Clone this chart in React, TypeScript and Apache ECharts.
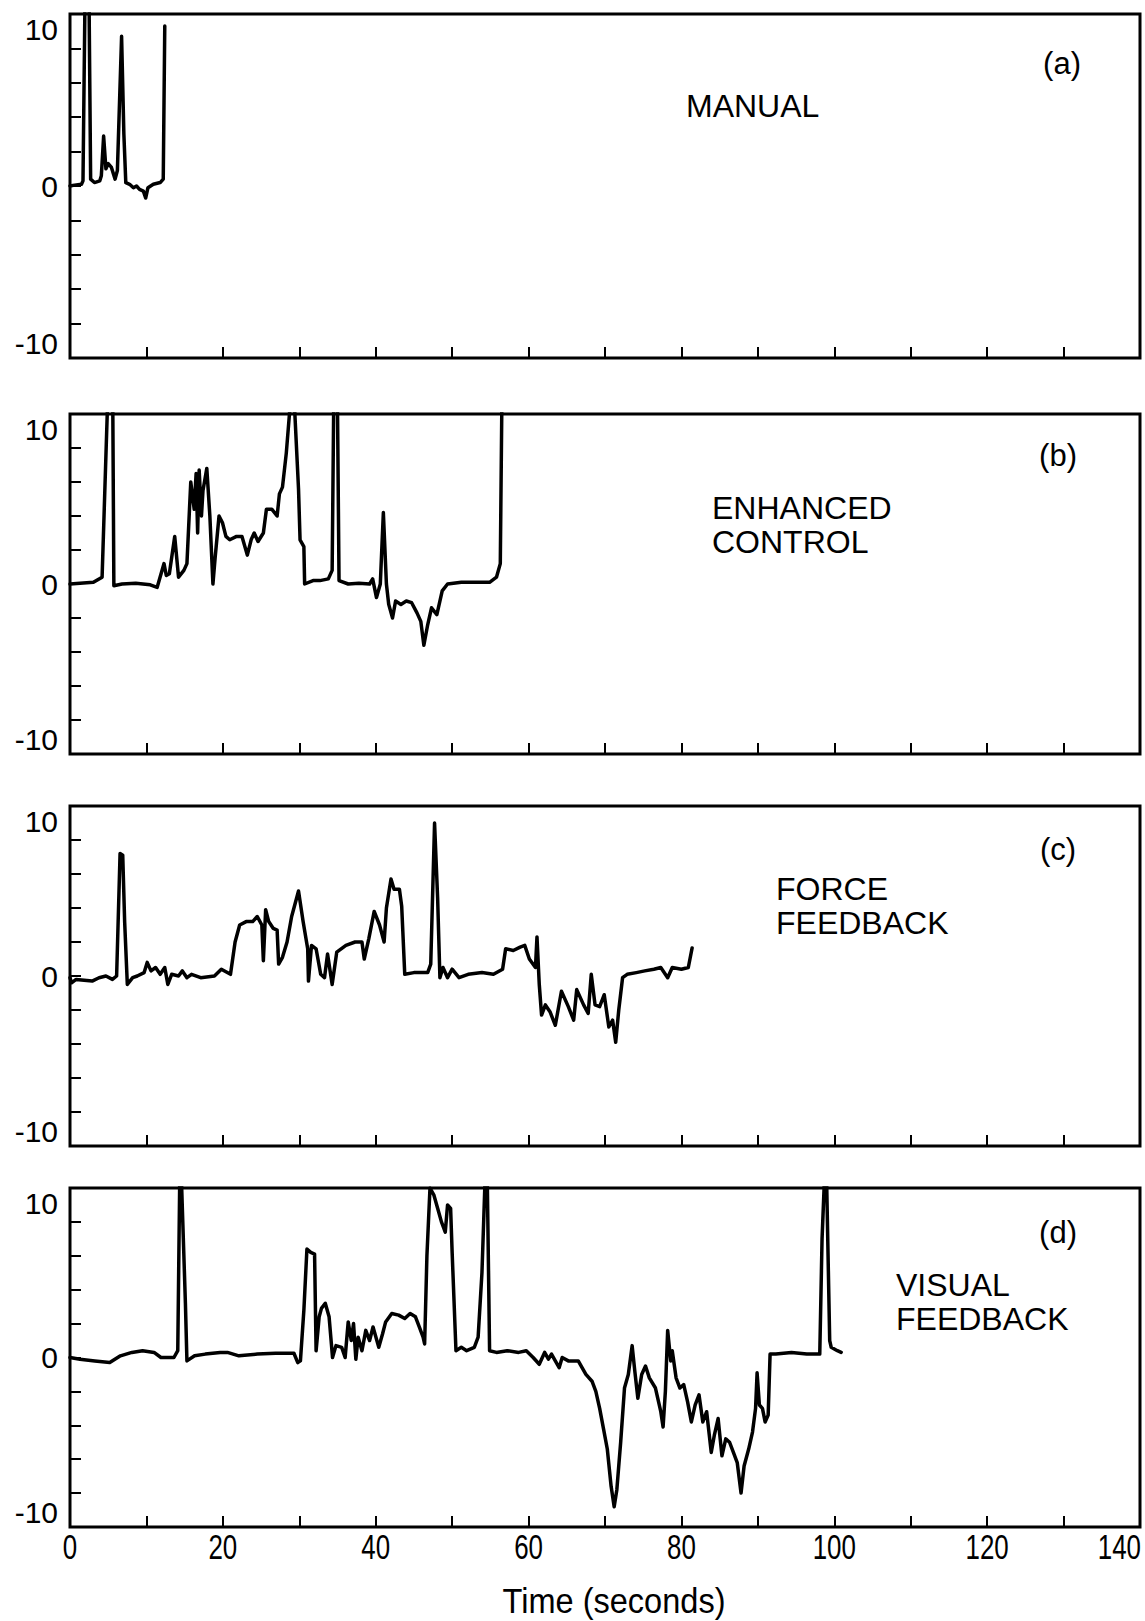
import React, { useEffect, useRef } from "react";
import * as echarts from "echarts";

// ---- Data (time in seconds, value) ----
const A_T = [0, 0.6, 1.5, 1.7, 1.95, 2.5, 2.7, 3.2, 3.9, 4.1, 4.4, 4.7, 5.0, 5.4, 5.9, 6.2, 6.75, 7.05, 7.3, 7.8, 8.3, 8.7, 9.1, 9.6, 9.9, 10.2, 10.9, 11.8, 12.2, 12.4];
const A_V = [0, 0.05, 0.1, 0.3, 10.4, 10.4, 0.4, 0.2, 0.3, 0.6, 2.9, 1.0, 1.3, 1.1, 0.4, 0.9, 8.7, 3.0, 0.2, 0.1, -0.1, 0.0, -0.2, -0.3, -0.7, -0.1, 0.1, 0.2, 0.4, 9.3];

const B_T = [0, 3.06, 4.2, 4.9, 5.6, 5.74, 6.8, 8.6, 10.5, 11.4, 12.3, 12.6, 13.0, 13.7, 14.2, 14.9, 15.3, 15.8, 16.25, 16.5, 16.7, 16.9, 17.2, 17.4, 17.9, 18.3, 18.7, 19.0, 19.5, 19.95, 20.4, 20.9, 21.8, 22.5, 23.2, 23.7, 24.1, 24.6, 25.3, 25.7, 26.4, 27.1, 27.4, 27.8, 28.3, 28.75, 29.4, 29.9, 30.1, 30.6, 30.7, 31.8, 32.7, 33.8, 34.3, 34.5, 35.0, 35.2, 36.4, 37.8, 39.2, 39.6, 40.1, 40.6, 41.0, 41.4, 41.7, 42.2, 42.6, 43.3, 44.0, 44.7, 45.4, 45.9, 46.3, 46.8, 47.3, 48.0, 48.7, 49.4, 51.2, 53.1, 54.9, 55.8, 56.3, 56.5];
const B_V = [0, 0.1, 0.4, 10.4, 10.4, -0.1, 0.0, 0.05, -0.05, -0.2, 1.2, 0.5, 0.6, 2.8, 0.4, 0.8, 1.2, 6.0, 4.4, 6.5, 3.0, 6.7, 4.0, 5.5, 6.8, 4.0, 0.0, 1.6, 4.0, 3.6, 2.8, 2.6, 2.8, 2.8, 1.7, 2.6, 3.0, 2.5, 3.0, 4.4, 4.4, 4.0, 5.3, 5.7, 7.7, 10.2, 10.2, 5.6, 2.6, 2.2, 0.0, 0.2, 0.2, 0.3, 0.8, 10.4, 10.4, 0.2, 0.0, 0.05, 0.0, 0.3, -0.8, 0.0, 4.2, 0.0, -1.2, -2.0, -1.0, -1.2, -1.0, -1.1, -1.7, -2.2, -3.6, -2.4, -1.4, -1.8, -0.4, 0.0, 0.1, 0.1, 0.1, 0.4, 1.2, 10.4];

const C_T = [0, 0.2, 0.8, 2.9, 3.8, 4.7, 5.55, 6.1, 6.55, 6.9, 7.15, 7.5, 8.2, 8.8, 9.7, 10.1, 10.6, 11.2, 11.8, 12.4, 12.8, 13.3, 14.2, 14.7, 15.3, 15.9, 17.1, 18.9, 19.8, 21.0, 21.6, 22.2, 23.05, 23.9, 24.5, 25.1, 25.3, 25.6, 26.0, 26.6, 27.1, 27.3, 27.8, 28.4, 29.0, 29.9, 30.5, 31.1, 31.2, 31.6, 32.2, 32.8, 33.3, 33.7, 34.3, 34.9, 36.1, 37.3, 38.2, 38.5, 39.1, 39.8, 40.5, 41.1, 41.4, 42.0, 42.4, 43.1, 43.4, 43.8, 45.0, 46.8, 47.2, 47.7, 48.1, 48.4, 48.8, 49.4, 50.0, 50.9, 52.1, 53.9, 55.4, 56.6, 57.0, 58.0, 58.9, 59.5, 60.1, 60.9, 61.1, 61.4, 61.7, 62.2, 62.8, 63.5, 64.3, 65.2, 65.9, 66.3, 67.2, 67.8, 68.2, 68.7, 69.3, 69.9, 70.5, 71.0, 71.4, 71.8, 72.3, 72.9, 74.1, 75.2, 76.4, 77.3, 78.2, 78.8, 80.0, 80.9, 81.4];
const C_V = [-0.1, -0.4, -0.2, -0.3, -0.1, 0.0, -0.2, 0.0, 7.2, 7.1, 3.2, -0.5, -0.1, 0.0, 0.2, 0.8, 0.3, 0.5, 0.1, 0.5, -0.5, 0.1, 0.0, 0.3, -0.1, 0.1, -0.1, 0.0, 0.4, 0.1, 2.0, 3.0, 3.2, 3.2, 3.5, 3.0, 0.9, 3.9, 3.2, 2.8, 2.7, 0.7, 1.1, 2.0, 3.5, 5.0, 3.2, 1.6, -0.3, 1.8, 1.6, 0.1, -0.1, 1.3, -0.5, 1.4, 1.8, 2.0, 2.0, 1.0, 2.2, 3.8, 3.0, 2.0, 4.0, 5.7, 5.1, 5.1, 4.1, 0.1, 0.2, 0.2, 0.7, 9.0, 4.6, -0.1, 0.5, -0.1, 0.4, -0.1, 0.1, 0.2, 0.1, 0.4, 1.6, 1.5, 1.7, 1.8, 1.0, 0.5, 2.3, -0.5, -2.3, -1.7, -2.1, -2.9, -0.9, -1.8, -2.6, -0.8, -1.7, -2.2, 0.1, -1.7, -1.8, -1.1, -3.0, -2.6, -3.9, -2.0, -0.1, 0.1, 0.2, 0.3, 0.4, 0.5, -0.1, 0.5, 0.4, 0.5, 1.65];

const D_T = [0, 1.3, 3.25, 5.2, 6.6, 8.1, 9.5, 11.0, 11.9, 13.6, 14.1, 14.35, 14.6, 15.1, 15.3, 16.3, 17.7, 19.65, 20.6, 22.1, 24.5, 26.9, 29.3, 29.8, 30.15, 30.6, 31.0, 31.5, 32.0, 32.2, 32.6, 32.9, 33.4, 33.9, 34.35, 34.8, 35.55, 36.0, 36.4, 36.8, 37.1, 37.4, 37.7, 38.2, 38.7, 39.2, 39.65, 40.4, 40.9, 41.3, 42.1, 43.0, 43.8, 44.5, 45.2, 45.7, 46.2, 46.4, 46.7, 47.1, 47.6, 48.1, 48.6, 49.1, 49.4, 49.8, 50.0, 50.5, 51.2, 51.9, 52.9, 53.4, 53.9, 54.3, 54.6, 54.9, 55.8, 57.2, 58.7, 59.7, 60.6, 61.4, 62.1, 62.6, 63.0, 63.5, 64.0, 64.4, 65.2, 66.5, 67.0, 67.5, 68.3, 68.8, 69.3, 69.8, 70.3, 70.8, 71.2, 71.55, 72.05, 72.55, 73.05, 73.55, 73.9, 74.3, 74.8, 75.3, 75.8, 76.6, 77.3, 77.6, 77.9, 78.2, 78.6, 78.8, 79.3, 79.8, 80.3, 80.8, 81.3, 81.8, 82.3, 82.8, 83.3, 83.9, 84.3, 84.8, 85.3, 85.8, 86.3, 86.8, 87.3, 87.8, 88.2, 88.8, 89.3, 89.7, 89.9, 90.2, 90.6, 90.95, 91.35, 91.6, 92.35, 94.4, 96.4, 98.1, 98.4, 98.7, 99.0, 99.4, 99.6, 100.4, 100.9];
const D_V = [0, -0.1, -0.2, -0.3, 0.1, 0.3, 0.4, 0.3, 0.0, 0.0, 0.4, 10.2, 10.2, 3.2, -0.2, 0.1, 0.2, 0.3, 0.3, 0.1, 0.2, 0.25, 0.25, -0.3, -0.2, 2.8, 6.4, 6.2, 6.1, 0.4, 2.4, 2.9, 3.2, 2.4, 0.0, 0.7, 0.6, 0.0, 2.1, 1.0, 2.0, -0.1, 1.2, 0.4, 1.6, 1.0, 1.8, 0.6, 1.4, 2.1, 2.6, 2.5, 2.3, 2.6, 2.4, 1.8, 1.2, 0.8, 6.0, 10.0, 9.6, 8.8, 8.0, 7.4, 9.0, 8.8, 6.2, 0.4, 0.6, 0.4, 0.6, 1.2, 5.0, 10.4, 10.4, 0.4, 0.3, 0.4, 0.3, 0.4, 0.0, -0.4, 0.3, -0.1, 0.2, -0.2, -0.6, 0.0, -0.2, -0.2, -0.6, -1.0, -1.4, -2.0, -3.0, -4.2, -5.4, -7.6, -8.8, -7.8, -5.0, -1.8, -1.0, 0.7, -0.8, -2.4, -1.0, -0.5, -1.2, -1.8, -3.2, -4.1, -2.0, 1.6, -0.2, 0.4, -1.2, -1.8, -1.6, -2.6, -3.8, -2.8, -2.2, -3.8, -3.2, -5.6, -4.6, -3.6, -5.8, -4.8, -5.0, -5.6, -6.2, -8.0, -6.4, -5.4, -4.4, -3.0, -0.9, -2.8, -3.0, -3.8, -3.4, 0.2, 0.2, 0.3, 0.2, 0.2, 7.0, 10.4, 10.4, 1.0, 0.6, 0.4, 0.3];

const PANEL_LETTERS = ["(a)", "(b)", "(c)", "(d)"];
const PANEL_NAMES = [["MANUAL"], ["ENHANCED", "CONTROL"], ["FORCE", "FEEDBACK"], ["VISUAL", "FEEDBACK"]];
const X_LABELS_SHOWN = [0, 20, 40, 60, 80, 100, 120, 140];
const Y_LABELS_SHOWN = [-10, 0, 10];
const X_TITLE = "Time (seconds)";

const FONT = "'Liberation Sans', Arial, Helvetica, sans-serif";

export default function App() {
  const ref = useRef<HTMLDivElement>(null);

  useEffect(() => {
    if (!ref.current) return;
    const chart = echarts.init(ref.current, undefined, { renderer: "svg" });

    const series = [
      [A_T, A_V],
      [B_T, B_V],
      [C_T, C_V],
      [D_T, D_V],
    ];

    const grids = [
      { left: 70, top: 14, width: 1070, height: 344 },
      { left: 70, top: 414, width: 1070, height: 340 },
      { left: 70, top: 806, width: 1070, height: 340 },
      { left: 70, top: 1188, width: 1070, height: 339 },
    ];

    const letterPos = [
      [1062, 63],
      [1058, 455],
      [1058, 849],
      [1058, 1232],
    ];
    const namePos = [
      [686, 106],
      [712, 508],
      [776, 889],
      [896, 1285],
    ];

    const graphics: any[] = [];
    PANEL_LETTERS.forEach((l, i) => {
      graphics.push({
        type: "text",
        x: letterPos[i][0],
        y: letterPos[i][1],
        style: {
          text: l,
          font: `31px ${FONT}`,
          fill: "#000",
          align: "center",
          verticalAlign: "middle",
          textAlign: "center",
          textVerticalAlign: "middle",
        },
      });
    });
    PANEL_NAMES.forEach((lines, i) => {
      lines.forEach((ln, j) => {
        graphics.push({
          type: "text",
          x: namePos[i][0],
          y: namePos[i][1] + j * 34,
          style: {
            text: ln,
            font: `32px ${FONT}`,
            fill: "#000",
            align: "left",
            verticalAlign: "middle",
            textAlign: "left",
            textVerticalAlign: "middle",
          },
        });
      });
    });
    graphics.push({
      type: "text",
      x: 614,
      y: 1601,
      scaleX: 0.93,
      style: {
        text: X_TITLE,
        font: `35px ${FONT}`,
        fill: "#000",
        align: "center",
        verticalAlign: "middle",
        textAlign: "center",
        textVerticalAlign: "middle",
      },
    });

    const option: any = {
      animation: false,
      backgroundColor: "#fff",
      grid: grids.map((g) => ({
        ...g,
        show: true,
        borderColor: "#000",
        borderWidth: 3,
        backgroundColor: "transparent",
        containLabel: false,
      })),
      xAxis: grids.map((_, i) => ({
        type: "value",
        gridIndex: i,
        min: 0,
        max: 140,
        interval: 10,
        axisLine: { show: false, onZero: false },
        axisTick: { show: true, inside: true, length: 11, lineStyle: { color: "#000", width: 2 } },
        splitLine: { show: false },
        axisLabel: { show: false },
      })),
      yAxis: grids.map((_, i) => ({
        type: "value",
        gridIndex: i,
        min: -10,
        max: 10,
        interval: 2,
        axisLine: { show: false, onZero: false },
        axisTick: { show: true, inside: true, length: 11, lineStyle: { color: "#000", width: 2 } },
        splitLine: { show: false },
        axisLabel: {
          show: true,
          color: "#000",
          fontSize: 30,
          fontFamily: FONT,
          margin: 12,
          verticalAlignMaxLabel: "top",
          verticalAlignMinLabel: "bottom",
          formatter: (v: number) => (Y_LABELS_SHOWN.includes(v) ? String(v) : ""),
        },
      })),
      series: series.map(([ts, vs], i) => ({
        type: "line",
        xAxisIndex: i,
        yAxisIndex: i,
        data: ts.map((t, k) => [t, vs[k]]),
        showSymbol: false,
        symbol: "none",
        clip: true,
        lineStyle: { color: "#000", width: 3.5, join: "round", cap: "round" },
      })),
    };

    chart.setOption(option);

    // Condensed tick labels of the bottom time axis, placed through the axis scale
    X_LABELS_SHOWN.forEach((v) => {
      const p = chart.convertToPixel({ gridIndex: 3 }, [v, -10]) as number[];
      const isLast = v === X_LABELS_SHOWN[X_LABELS_SHOWN.length - 1];
      graphics.push({
        type: "text",
        x: isLast ? p[0] + 1 : p[0],
        y: p[1] + 20,
        scaleX: 0.72,
        style: {
          text: String(v),
          font: `36px ${FONT}`,
          fill: "#000",
          align: isLast ? "right" : "center",
          verticalAlign: "middle",
          textAlign: isLast ? "right" : "center",
          textVerticalAlign: "middle",
        },
      });
    });

    chart.setOption({ graphic: graphics });
    return () => chart.dispose();
  }, []);

  return (
    <div
      ref={ref}
      style={{ position: "absolute", left: 0, top: 0, width: 1145, height: 1621, background: "#fff" }}
    />
  );
}
